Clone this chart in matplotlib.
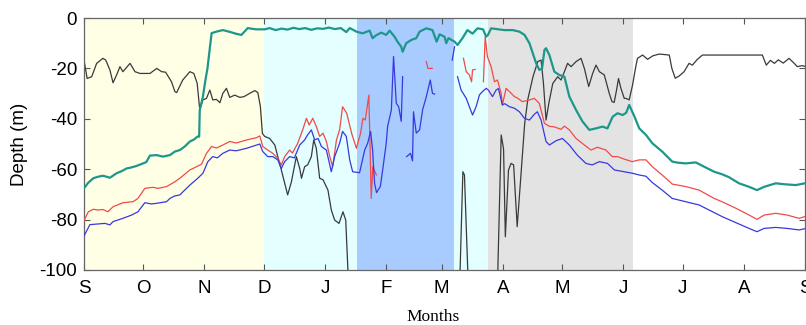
import numpy as np
import matplotlib
matplotlib.use("Agg")
import matplotlib.pyplot as plt

# x values are days since 1 September; depths in metres (negative down)
month_days = [0, 30, 61, 91, 122, 153, 181, 212, 242, 273, 303, 334, 365]
month_labels = ["S", "O", "N", "D", "J", "F", "M", "A", "M", "J", "J", "A", "S"]

# background periods (start day, end day)
period_bounds = [(0, 91), (91, 138), (138, 187.1), (187.1, 204.5), (204.5, 278)]
period_colors = ["#FFFFE6", "#E3FFFF", "#A8CCFF", "#E3FFFF", "#E3E3E3"]

teal_day = [0, 2, 4.7, 7, 9.6, 11.5, 13.1, 16.5, 19, 21.6, 24, 26.6, 29.8, 31.5,
            33.4, 36.8, 39.9, 43.5, 46, 48.5, 51, 53.6, 55.5, 57.6, 58.3, 58.6,
            60.2, 61.4, 62.5, 64.6, 67.1, 70.3, 73.8, 77.2, 79.7, 82.9, 87, 91.5,
            94, 97, 100, 103, 106, 109, 112, 115, 118, 121, 124, 127, 130, 132.8,
            134.5, 137.9, 141, 144.6, 146.1, 148, 150.5, 153, 154.7, 157.2, 158.7,
            160.6, 161.3, 163.1, 165.7, 168.2, 169.9, 173.3, 176.4, 178.5, 180,
            182.5, 183.4, 184.5, 187.6, 189.1, 191.6, 194.1, 196.7, 199.2, 202,
            203.6, 204.5, 206.1, 210, 212.8, 217, 220.4, 223, 225.5, 227.2, 228.9,
            230.5, 231.9, 233.1, 233.9, 235.6, 238.1, 240.6, 243.2, 245.7, 249.1,
            252.3, 255.8, 259.2, 262.5, 265, 267.6, 270.1, 272.7, 274.5, 276,
            278.6, 281.1, 284.5, 287.7, 292.7, 297.8, 300.5, 304.7, 309.7, 313.9,
            319, 323, 326.6, 331.6, 336.7, 340.7, 344.3, 350.2, 355, 360.3, 365]
teal_dep = [-67.6, -65.5, -63.6, -63.0, -62.6, -63.0, -63.4, -61.6, -60.8, -59.7, -59.3,
            -58.7, -57.7, -57.2, -54.6, -54.4, -55.0, -54.4, -53.0, -52.4, -51.0, -49.0,
            -48.3, -47.0, -47.1, -36.5, -31.2, -25.0, -20.0, -6.0, -5.4, -4.8, -5.5,
            -6.3, -6.7, -4.0, -4.5, -4.5, -4.0, -4.8, -4.2, -4.6, -3.9, -4.4, -4.0,
            -4.7, -4.1, -4.3, -3.8, -4.4, -4.0, -5.6, -4.0, -5.4, -6.1, -5.0, -8.0,
            -6.8, -5.8, -6.7, -5.0, -7.4, -9.4, -11.4, -13.4, -10.0, -8.7, -8.0, -5.4,
            -4.1, -4.8, -9.4, -6.5, -7.4, -10.0, -8.0, -9.4, -10.7, -8.0, -4.8, -6.2,
            -4.1, -4.5, -7.4, -6.7, -4.1, -4.5, -4.8, -4.8, -5.4, -6.7, -10.0, -14.0,
            -18.0, -20.6, -20.0, -12.7, -12.0, -14.7, -21.3, -22.6, -23.3, -31.2,
            -36.5, -41.0, -44.4, -43.8, -43.1, -43.8, -39.2, -37.8, -38.5, -37.6,
            -34.5, -39.0, -43.8, -46.4, -49.7, -53.0, -57.0, -57.4, -57.7, -57.3,
            -59.0, -61.0, -62.0, -63.2, -65.6, -67.0, -68.3, -67.0, -65.6, -66.0,
            -66.3, -65.6]

nan = np.nan
red_day = [0, 2.2, 4.7, 7, 9.6, 12.1, 14.7, 19.7, 24.8, 27.3, 30.8, 34.9, 37.5, 41.8,
           46, 48.5, 53.6, 57, 59.5, 62, 64.6, 67, 70.3, 73.8, 77, 82.3, 87.3, 89,
           90.5, 93, 95.6, 98.1, 99.9, 101.6, 104.1, 105.5, 108.2, 110.7, 112.6, 114,
           115.8, 117.6, 119.3, 121, 122.7, 124.4, 125.9, 127.8, 129.4, 130.9, 133,
           135.5, 137.9, 140, 141.2, 142.4, 144.2, 144.9, 145.4, 146.2, 147, 148,
           160,
           173.3, 174.1, 176.3,
           185,
           192.1, 193.5, 195.1, 196.2, 196.7, 198,
           200,
           202.2, 203.1, 204.2, 206.1, 207.8, 209.3, 211.2, 211.8, 213.7, 215.4,
           217.9, 219.5, 221.9, 225.5, 228, 230.5, 233.1, 235.6, 238.1, 241.5, 243.2,
           245.7, 249.1, 253.3, 256.7, 259.9, 264.2, 267.4, 270, 273.5, 277.5, 281.1,
           284.5, 287.7, 292.7, 297.8, 304.7, 311.4, 319, 323, 330, 336.7, 340.7,
           344.3, 350.2, 356, 362, 365]
red_dep = [-80.4, -76.9, -75.9, -76.2, -76.0, -76.9, -74.9, -73.3, -72.9, -71.6, -67.6,
           -67.2, -67.6, -66.9, -65.0, -63.6, -60.3, -59.0, -58.0, -53.7, -51.0, -51.6,
           -50.4, -49.0, -49.6, -48.4, -47.5, -46.8, -51.0, -52.4, -53.7, -55.7, -58.3,
           -55.0, -52.4, -53.6, -49.7, -44.4, -39.8, -42.5, -39.8, -43.0, -47.0, -45.7,
           -49.0, -55.0, -59.0, -48.4, -44.4, -35.2, -37.8, -45.8, -51.7, -45.8, -39.8,
           -40.5, -30.6, -53.7, -71.6, -59.0, -60.5, -62.3,
           nan,
           -17.3, -20.0, -20.0,
           nan,
           -16.0, -21.3, -22.6, -25.3, -20.6, -20.4,
           nan,
           -25.3, -7.4, -15.3, -19.3, -25.3, -24.6, -30.0, -34.5, -27.9, -29.2,
           -31.2, -31.8, -33.2, -32.5, -31.9, -33.9, -41.8, -43.0, -43.2, -44.2, -42.9,
           -44.4, -47.8, -50.4, -52.4, -51.3, -52.4, -55.0, -55.0, -56.0, -57.0, -56.3,
           -56.3, -59.0, -62.3, -65.9, -66.9, -68.3, -71.6, -72.9, -75.5, -78.2, -79.9,
           -78.2, -77.5, -78.2, -79.5, -78.8]

blue_day = [0, 3, 6, 10.6, 13.1, 14.7, 19.7, 24.1, 27.3, 30.8, 34.2, 37, 41.8, 43.5,
            46, 48.5, 53.6, 57.6, 60.2, 62.7, 65.2, 67.5, 70.3, 73.8, 77, 82.3, 87.3,
            89, 90.5, 93, 95.6, 98.1, 99.9, 101.6, 104.1, 106.5, 109.2, 111.7, 113.2,
            115.1, 116.8, 118.5, 120.2, 122.7, 125.2, 126.9, 129.4, 130.9, 132.8,
            134.5, 136, 139.5, 142.1, 143.6, 145.1, 146.1, 147.1, 148.1, 150, 151.2,
            153, 153.7, 155.6, 156.7, 158.1, 159.3, 160.6, 161.3,
            162.3,
            163.3, 165.3, 166.3, 166.8, 168.2, 169.9, 171.4, 173.3, 175.3, 176.4, 177.5,
            182,
            186.4, 187.6,
            188.3,
            189.1, 190.9, 193.5, 195.1, 196.7, 198.5, 200.2, 201.7, 203.6, 204.7,
            206.8, 208.6, 209.8, 211.8, 213, 215.4, 217.9, 220.4, 223, 225.5, 228,
            229.5, 231.4, 233.9, 235.6, 239, 242.2, 245.7, 249.7, 254.1, 257.3, 260.9,
            265, 268.5, 273.5, 277.6, 281.1, 284.5, 287.7, 292.7, 297.8, 304.7, 311.4,
            319, 323, 330, 336.7, 340.7, 344.3, 350.2, 356, 362, 365]
blue_dep = [-86.5, -82.0, -81.8, -81.5, -82.1, -80.8, -79.5, -78.2, -76.9, -73.3, -73.8,
            -73.5, -72.9, -71.6, -70.6, -70.2, -66.3, -63.6, -61.6, -57.0, -55.0, -55.5,
            -53.7, -52.4, -52.7, -51.7, -50.4, -50.0, -53.0, -55.0, -55.0, -56.3, -59.7,
            -57.0, -55.0, -55.5, -50.4, -48.4, -46.4, -44.4, -48.4, -47.8, -51.0, -52.4,
            -61.0, -55.0, -49.7, -45.0, -47.0, -56.3, -61.0, -61.4, -52.4, -49.7, -45.0,
            -52.4, -65.6, -69.3, -66.9, -60.3, -49.7, -43.0, -36.5, -15.3, -33.9, -35.2,
            -41.0, -23.3,
            nan,
            -55.0, -53.7, -56.7, -37.2, -45.7, -44.4, -36.5, -31.2, -24.6, -29.9, -30.2,
            nan,
            -16.7, -11.4,
            nan,
            -23.3, -28.6, -31.9, -35.2, -38.5, -35.2, -30.5, -29.2, -27.9, -28.6,
            -31.2, -28.6, -28.0, -34.5, -34.0, -35.2, -35.8, -37.2, -39.8, -40.5, -38.2,
            -37.2, -40.5, -49.0, -50.4, -48.7, -47.8, -50.4, -54.4, -57.7, -58.3, -57.0,
            -57.7, -60.3, -61.0, -61.6, -62.3, -62.8, -65.3, -68.3, -71.6, -72.9, -74.2,
            -77.2, -78.8, -81.2, -83.5, -84.8, -83.5, -83.1, -83.5, -84.1, -83.6]

black_day = [0, 1.6, 3.9, 6.4, 9.6, 11, 13.1, 14.7, 16.5, 18.2, 19.7, 23.3, 25.8, 28.3,
             33.4, 36.8, 39.3, 41.3, 44.3, 46, 46.9, 50, 53.6, 55.6, 57.3, 58.6, 60.2,
             62, 63.7, 65.2, 67, 68.8, 70.3, 72.1, 73.8, 76.3, 78.9, 81, 83.9, 86.5, 88,
             89.3, 90.3, 91.5, 94, 96.6, 98.1, 99.9, 101.6, 103.1, 105, 107.5, 109.2,
             110.1, 111.7, 113.2, 115.1, 116.3, 117.6, 119.3, 121, 123.5, 125.2, 126.9,
             129.1, 131.1, 132.5, 133.6, 134.2, 190.0, 190.4, 191.8, 192.6, 194.3,
             194.8, 209.0, 209.5, 211.2, 212.4, 213.3, 214.9, 216.2, 217.5, 219.3,
             221.5, 223.1, 224.7, 227.3, 229.7, 231.4, 232.6, 233.9, 235.3, 237.3,
             239.8, 241.5, 243.2, 244.8, 246.6, 249.1, 251.6, 253.3, 255.5, 257.5,
             259.2, 260.9, 263.4, 265.9, 267.3, 268.4, 269.6, 270.6, 271.8, 273.5,
             274.4, 276, 277.7, 279.4, 280.2, 282.8, 285.3, 288, 291.2, 296.3, 297.6,
             299.3, 301.3, 303.8, 306.3, 308, 310.5, 313.1, 343.4, 345.4, 347.5,
             349.5, 351.5, 354, 356.9, 359.3, 361.1, 363.5, 365]
black_dep = [-16.7, -24.0, -23.3, -18.0, -16.0, -16.7, -20.6, -25.7, -22.6, -19.3, -21.3,
             -18.0, -21.3, -22.0, -22.0, -20.0, -21.3, -21.5, -25.3, -29.2, -29.6, -24.6,
             -21.3, -22.0, -25.9, -36.5, -32.5, -31.9, -28.6, -32.5, -32.3, -33.6, -29.9,
             -27.9, -31.5, -30.6, -31.5, -31.2, -29.9, -28.8, -29.6, -35.2, -45.8, -47.0,
             -47.8, -50.4, -55.0, -60.3, -65.6, -70.2, -65.0, -55.0, -59.7, -63.6, -59.0,
             -58.3, -55.0, -48.4, -51.7, -63.6, -64.2, -68.3, -76.2, -80.2, -81.5, -76.9,
             -80.2, -100.0, -112.0, -112.0, -100.0, -61.0, -62.3, -100.0,
             -112.0, -112.0, -100.0, -46.4, -52.0, -86.8, -60.3, -57.7, -58.3, -82.8,
             -59.0, -41.8, -32.2, -23.3, -17.3, -16.7, -26.0, -40.5, -33.9, -26.0,
             -23.3, -24.6, -21.3, -18.0, -19.3, -17.3, -16.0, -20.0, -27.2, -22.0,
             -18.7, -21.3, -22.6, -29.9, -33.2, -33.5, -28.6, -24.0, -27.9, -31.9,
             -31.9, -32.5, -26.6, -19.0, -16.0, -14.7, -16.4, -15.0, -14.3, -14.7, -20.0,
             -23.9, -23.0, -21.3, -18.0, -18.7, -16.4, -14.7, -14.7, -18.7, -16.8,
             -18.0, -16.6, -17.9, -16.0, -17.8, -19.3, -18.9, -19.2]

plt.rcParams["font.family"] = ["Liberation Sans", "DejaVu Sans"]
plt.rcParams["axes.unicode_minus"] = False

fig = plt.figure(figsize=(8.06, 3.25), dpi=100)
ax = fig.add_axes([84 / 806, 1 - 270 / 325, 721 / 806, 252 / 325])

for (a, b), c in zip(period_bounds, period_colors):
    ax.axvspan(a, b, color=c, lw=0, zorder=0)

ax.plot(black_day, black_dep, color="#3a3a3a", lw=0.9, zorder=2)
ax.plot(red_day, red_dep, color="#f04a4a", lw=0.9, zorder=3)
ax.plot(blue_day, blue_dep, color="#3838e0", lw=0.9, zorder=3)
ax.plot(teal_day, teal_dep, color="#1e978a", lw=1.6, zorder=4)

ax.set_xlim(0, 365)
ax.set_ylim(-100, 0)
ax.set_xticks(month_days)
ax.set_xticklabels(month_labels)
ax.set_yticks([-100, -80, -60, -40, -20, 0])
ax.tick_params(direction="in", top=True, right=True, length=4, width=0.8,
               color="#555555", labelsize=13.5)
ax.tick_params(axis="x", pad=7)
ax.tick_params(axis="y", pad=5)
for s in ax.spines.values():
    s.set_color("#666666")
    s.set_linewidth(0.9)

fig.text(19 / 806, 1 - 144 / 325, "Depth (m)", rotation=90, ha="center",
         va="center", fontsize=13.5)
fig.text(433 / 806, 1 - 321 / 325, "Months", ha="center", va="baseline",
         fontsize=12.5, family=["Liberation Serif", "DejaVu Serif"])

fig.savefig("out.png", dpi=100)
